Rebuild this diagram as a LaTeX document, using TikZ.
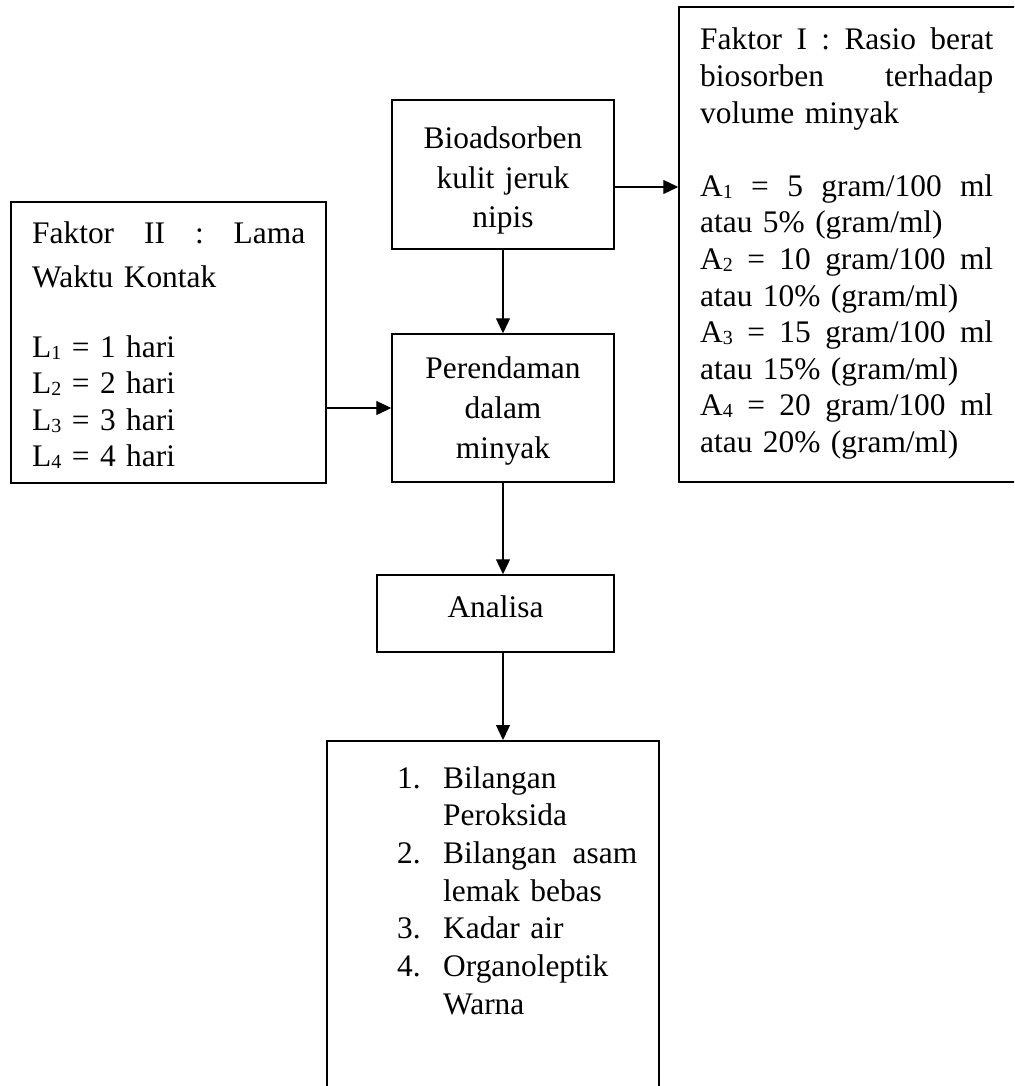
\documentclass[tikz,border=0pt]{standalone}
\usepackage{fontspec}
\setmainfont{Liberation Serif}
\usetikzlibrary{arrows.meta}
\newcommand\sbs[1]{\raisebox{-2pt}{\fontsize{20}{20}\selectfont #1}}
\begin{document}
\begin{tikzpicture}[x=1pt,y=-1pt,
  box/.style={draw=black, line width=1.5pt, inner sep=0pt},
  txt/.style={font=\fontsize{31.4}{36.6}\selectfont, inner sep=0pt},
  arr/.style={line width=1.3pt, -{Triangle[length=15pt,width=14pt]}}]
\useasboundingbox (0,0) rectangle (1014,1086);
\clip (0,0) rectangle (1014,1086);

\node[box, txt, minimum width=222pt, minimum height=149pt, text width=200pt, align=center,
      font=\fontsize{31.4}{39.5}\selectfont] (bio) at (503,174.5)
      {\rule{0pt}{34pt}Bioadsorben\\kulit jeruk\\nipis};

\node[box, minimum width=339pt, minimum height=475pt] (f1) at (848.5,244.5) {};
\node[txt, anchor=base west, text width=293pt, align=left] (f1t) at (700,50)
  {\makebox[293pt][s]{Faktor\hfill I\hfill :\hfill Rasio\hfill berat}\\
   \makebox[293pt][s]{biosorben\hfill terhadap}\\
   volume minyak\\[36.6pt]
   \makebox[293pt][s]{A\sbs{1}\hfill =\hfill 5\hfill gram/100\hfill ml}\\
   atau 5\% (gram/ml)\\
   \makebox[293pt][s]{A\sbs{2}\hfill =\hfill 10\hfill gram/100\hfill ml}\\
   atau 10\% (gram/ml)\\
   \makebox[293pt][s]{A\sbs{3}\hfill =\hfill 15\hfill gram/100\hfill ml}\\
   atau 15\% (gram/ml)\\
   \makebox[293pt][s]{A\sbs{4}\hfill =\hfill 20\hfill gram/100\hfill ml}\\
   atau 20\% (gram/ml)};

\node[box, minimum width=315pt, minimum height=281pt] (f2) at (168.5,342.5) {};
\node[txt, anchor=base west, text width=273pt, align=left] (f2t) at (32,243)
  {\makebox[273pt][s]{Faktor\hfill II\hfill :\hfill Lama}\\[7.4pt]
   Waktu Kontak\\[33.4pt]
   L\sbs{1} = 1 hari\\
   L\sbs{2} = 2 hari\\
   L\sbs{3} = 3 hari\\
   L\sbs{4} = 4 hari};

\node[box, txt, minimum width=222pt, minimum height=148pt, text width=200pt, align=center,
      font=\fontsize{31.4}{40}\selectfont] (rend) at (503,408)
      {\rule{0pt}{27pt}Perendaman\\dalam\\minyak};

\node[box, txt, minimum width=237pt, minimum height=77pt, text height=22pt, text depth=14pt]
      (ana) at (495.5,613.5) {Analisa};

\node[box, minimum width=332pt, minimum height=370pt, anchor=north] (hasil) at (493,740) {};
\node[txt, anchor=base west, text width=240pt, align=left,
      font=\fontsize{31.4}{37.7}\selectfont] (hasilt) at (397,788)
  {\makebox[46pt][l]{1.}Bilangan\\
   \hspace*{46pt}Peroksida\\
   \makebox[46pt][l]{2.}\makebox[194pt][s]{Bilangan\hfill asam}\\
   \hspace*{46pt}lemak bebas\\
   \makebox[46pt][l]{3.}Kadar air\\
   \makebox[46pt][l]{4.}Organoleptik\\
   \hspace*{46pt}Warna};

\coordinate (p1) at ([yshift=-12.5pt]bio.east);
\draw[arr] (p1) -- (p1 -| f1.west);
\draw[arr] (bio.south) -- (rend.north);
\draw[arr] (f2.east |- rend.west) -- (rend.west);
\draw[arr] (rend.south) -- (rend.south |- ana.north);
\draw[arr] (rend.south |- ana.south) -- (rend.south |- hasil.north);
\end{tikzpicture}
\end{document}
